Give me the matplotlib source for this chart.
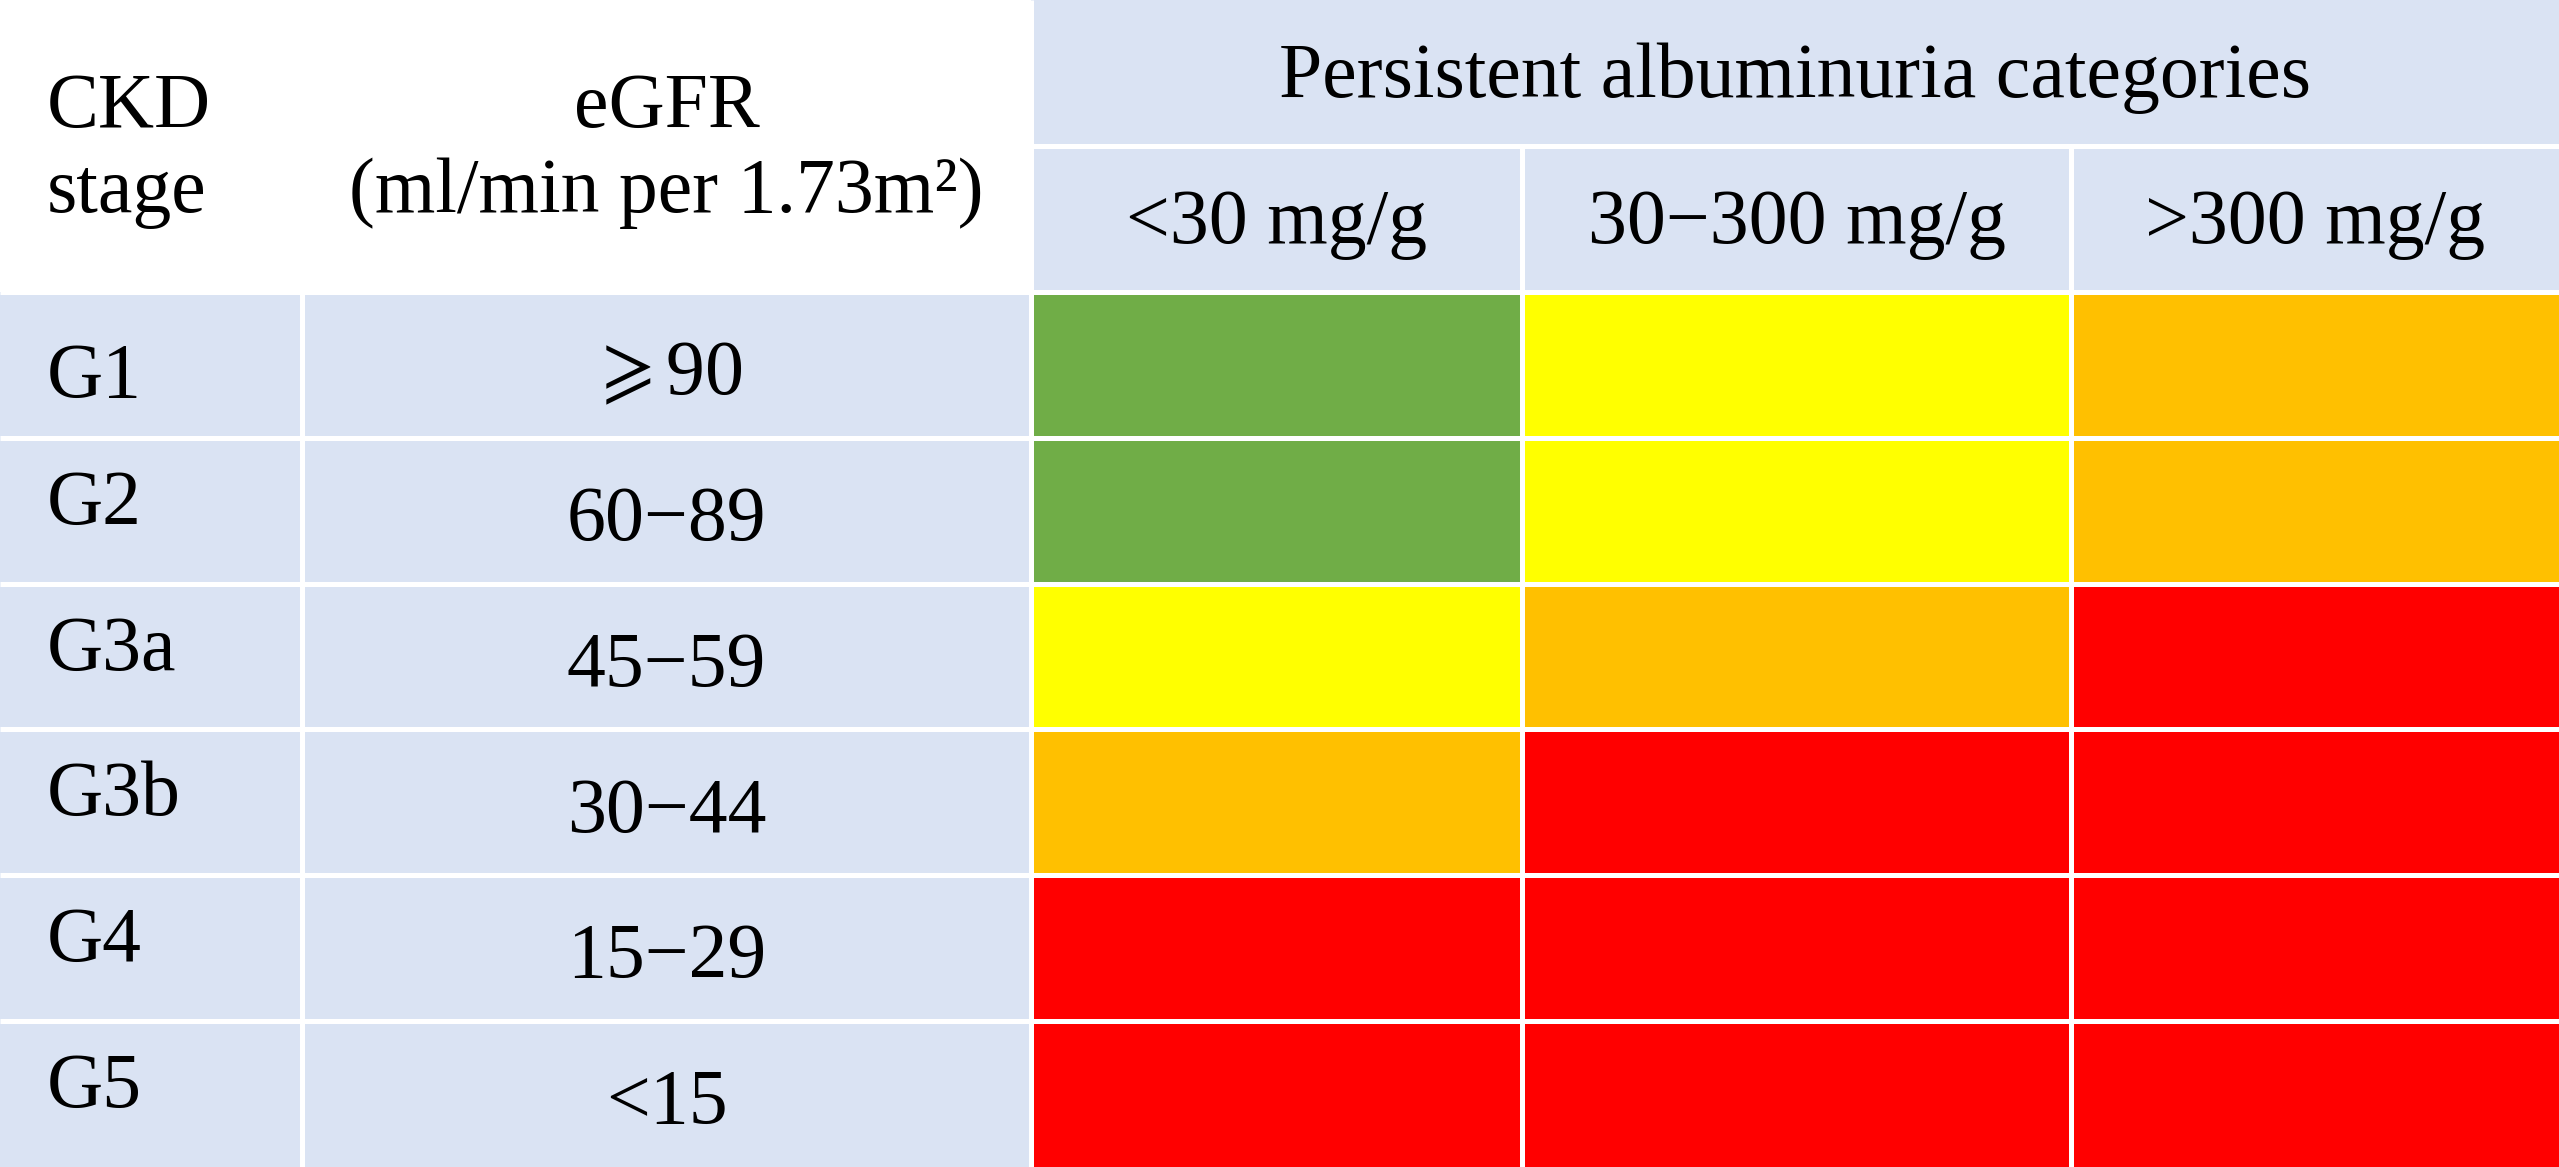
import matplotlib
matplotlib.use("Agg")
import matplotlib.pyplot as plt
from matplotlib.patches import Rectangle

# table content
stages = ["G1", "G2", "G3a", "G3b", "G4", "G5"]
egfr = [r"$\geqslant$90", "60\u221289", "45\u221259", "30\u221244", "15\u221229", "<15"]
albuminuria = ["<30 mg/g", "30\u2212300 mg/g", ">300 mg/g"]
# risk level per stage (rows) and albuminuria category (cols)
risk = [
    [0, 1, 2],
    [0, 1, 2],
    [1, 2, 3],
    [2, 3, 3],
    [3, 3, 3],
    [3, 3, 3],
]
risk_colors = ["#70AD47", "#FFFF00", "#FFC000", "#FF0000"]

# layout (pixels)
W, H = 2559, 1167
col_edges = [0, 302, 1031, 1522, 2071, 2559]
rh = H / 8.0
blue = "#DAE3F3"
gap = 5
fs = 56
font = ["Liberation Serif", "DejaVu Serif"]
plt.rcParams["mathtext.fontset"] = "stix"

fig = plt.figure(figsize=(W / 100, H / 100), dpi=100)
ax = fig.add_axes([0, 0, 1, 1])
ax.set_xlim(0, W)
ax.set_ylim(H, 0)
ax.axis("off")


def cell(c0, c1, r0, r1, color):
    x0, x1 = col_edges[c0], col_edges[c1]
    ax.add_patch(Rectangle((x0, r0 * rh), x1 - x0, (r1 - r0) * rh,
                           facecolor=color, edgecolor="none"))


def txt(x, y, s, ha="center"):
    ax.text(x, y, s, ha=ha, va="baseline", fontsize=fs, family=font,
            color="black")


# header
cell(2, 5, 0, 1, blue)
for j in range(3):
    cell(2 + j, 3 + j, 1, 2, blue)
txt((col_edges[2] + col_edges[5]) / 2, 0.665 * rh, "Persistent albuminuria categories")
for j, lab in enumerate(albuminuria):
    txt((col_edges[2 + j] + col_edges[3 + j]) / 2, 1.665 * rh, lab)

txt(47, 127, "CKD", ha="left")
txt(47, 212, "stage", ha="left")
cx = (col_edges[1] + col_edges[2]) / 2
txt(cx, 127, "eGFR")
txt(cx, 212, "(ml/min per 1.73m\u00b2)")

# body
stage_base = [0.72, 0.59, 0.59, 0.59, 0.59, 0.59]
for i in range(len(stages)):
    r = 2 + i
    cell(0, 1, r, r + 1, blue)
    cell(1, 2, r, r + 1, blue)
    for j in range(3):
        cell(2 + j, 3 + j, r, r + 1, risk_colors[risk[i][j]])
    txt(47, (r + stage_base[i]) * rh, stages[i], ha="left")
    txt(cx, (r + 0.70) * rh, egfr[i])

# white grid gaps
lw = gap * 72 / 100
for k in range(1, 8):
    ax.hlines(k * rh, 0, W, colors="white", linewidth=lw)
ax.vlines(col_edges[1], 2 * rh, H, colors="white", linewidth=lw)
ax.vlines(col_edges[2], 0, H, colors="white", linewidth=lw)
ax.vlines(col_edges[3:5], rh, H, colors="white", linewidth=lw)

fig.savefig("out.png", dpi=100, facecolor="white")
